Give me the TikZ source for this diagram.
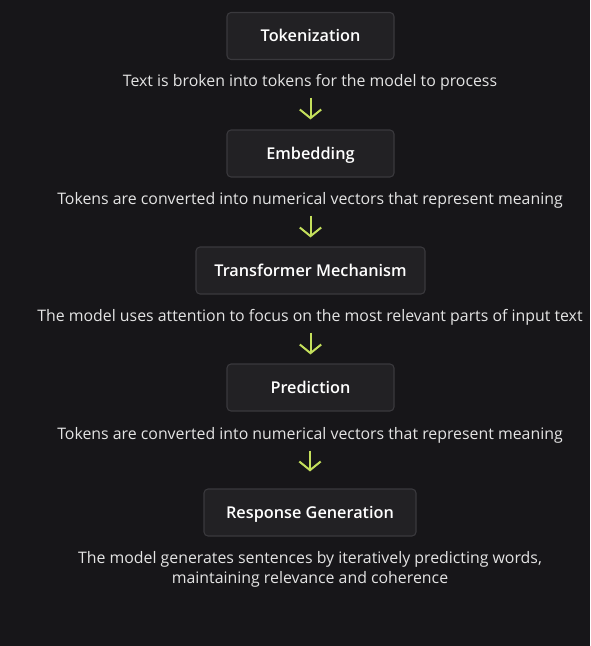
\documentclass[tikz,border=0pt]{standalone}
\usepackage{fontspec}
\usetikzlibrary{arrows.meta}
\setmainfont{Open Sans}
\IfFontExistsTF{Open Sans SemiBold}{%
  \newfontfamily\boxfont{Open Sans SemiBold}}{%
  \IfFontExistsTF{Open Sans Semibold}{%
    \newfontfamily\boxfont{Open Sans Semibold}}{%
    \newcommand\boxfont{\bfseries}}}
\definecolor{bgdark}{HTML}{171619}
\definecolor{boxfill}{HTML}{222124}
\definecolor{boxline}{HTML}{3A393D}
\definecolor{arrowlime}{HTML}{C4DF5C}
\definecolor{captext}{HTML}{E4E4E4}

\tikzset{
    stagebox/.style={draw=boxline, line width=0.8pt, fill=boxfill,
        rounded corners=3pt, minimum height=35.25pt, inner xsep=10.5pt,
        text height=8.4pt, text depth=0pt,
        text=white, font=\boxfont\fontsize{12.2}{14}\selectfont},
    caption/.style={text=captext, inner sep=0pt, align=center,
        font=\fontsize{11.9}{15}\selectfont},
    flow/.style={draw=arrowlime, line width=1.5pt,
        -{Straight Barb[length=6.5pt, width=16pt, line width=1.5pt]}},
}

\begin{document}
\begin{tikzpicture}[x=0.75pt, y=-0.75pt]
    \fill[bgdark] (0,0) rectangle (590,646);
    \useasboundingbox (0,0) rectangle (590,646);
    %% boxes
    \node[stagebox, minimum width=125.25pt] (tok)  at (310.5,36)  {Tokenization};
    \node[stagebox, minimum width=125.25pt] (emb)  at (310.5,153.5) {Embedding};
    \node[stagebox, minimum width=171.75pt] (trf)  at (310.5,270.5) {Transformer Mechanism};
    \node[stagebox, minimum width=125.25pt] (pred) at (310.5,387.5) {Prediction};
    \node[stagebox, minimum width=159pt] (resp) at (310,512.5) {Response Generation};
    %% captions
    \node[caption] (captok)  at (310,82)  {Text is broken into tokens for the model to process};
    \node[caption] (capemb)  at (310,200) {Tokens are converted into numerical vectors that represent meaning};
    \node[caption] (captrf)  at (310,317) {The model uses attention to focus on the most relevant parts of input text};
    \node[caption] (cappred) at (310,435) {Tokens are converted into numerical vectors that represent meaning};
    \node[caption] (capresp) at (310,569) {The model generates sentences by iteratively predicting words,\\
        maintaining relevance and coherence};
    %% arrows
    \draw[flow, shorten <=5.5pt, shorten >=7.5pt] (captok.south -| emb.north)  -- (emb.north);
    \draw[flow, shorten <=5.5pt, shorten >=6.75pt] (capemb.south -| trf.north)  -- (trf.north);
    \draw[flow, shorten <=5.5pt, shorten >=6.75pt] (captrf.south -| pred.north) -- (pred.north);
    \draw[flow, shorten <=5.5pt, shorten >=12.75pt] (cappred.south -| resp.north) -- (resp.north);
\end{tikzpicture}
\end{document}
